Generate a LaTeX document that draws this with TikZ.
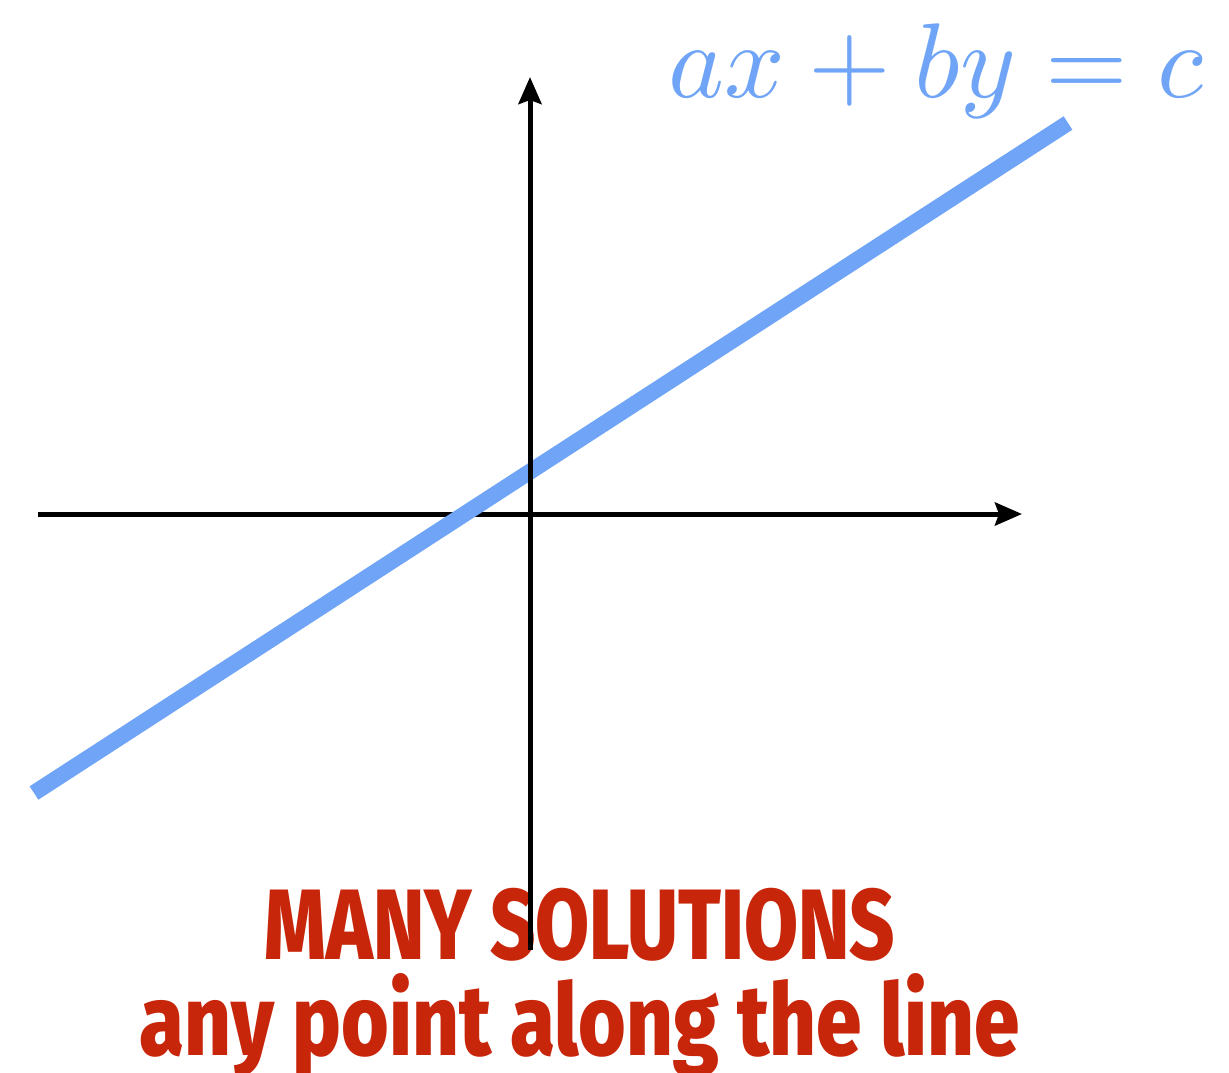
\documentclass[tikz,border=0pt]{standalone}
\usepackage{fontspec}
\usetikzlibrary{arrows.meta}
\newfontfamily\redfont{Fira Sans}[BoldFont={Fira Sans ExtraBold}]
\definecolor{lineblue}{RGB}{111,164,246}
\definecolor{titlered}{RGB}{200,38,10}
\begin{document}
\begin{tikzpicture}[x=1pt,y=-1pt,
  axis/.style={line width=5pt,-{Stealth[length=27pt,width=23pt,inset=4pt]}},
  solline/.style={line width=16pt,lineblue,line cap=butt},
  redtext/.style={text=titlered,anchor=base,inner sep=0pt,font=\redfont\bfseries\fontsize{100}{110}\selectfont},
  eqtext/.style={text=lineblue,anchor=base west,inner sep=0pt}]
\useasboundingbox (0,0) rectangle (1229,1072);
% bottom text
\node[redtext] (t1) at (580,959) {\resizebox{630pt}{\height}{MANY SOLUTIONS}};
\node[redtext] (t2) at (580,1055) {\resizebox{880pt}{\height}{any point along the line}};
% equation
\node[eqtext] (eq) at (668,97) {\resizebox{535pt}{!}{$ax+by=c$}};
% axes and line
\coordinate (xl) at (38,514);
\coordinate (xr) at (1022,514);
\coordinate (yb) at (530,950);
\coordinate (yt) at (530,77);
\coordinate (la) at (34,793);
\coordinate (lb) at (1068,123);
\draw[axis] (xl) -- (xr);
\draw[solline] (la) -- (lb);
\draw[axis] (yb) -- (yt);
\end{tikzpicture}
\end{document}
